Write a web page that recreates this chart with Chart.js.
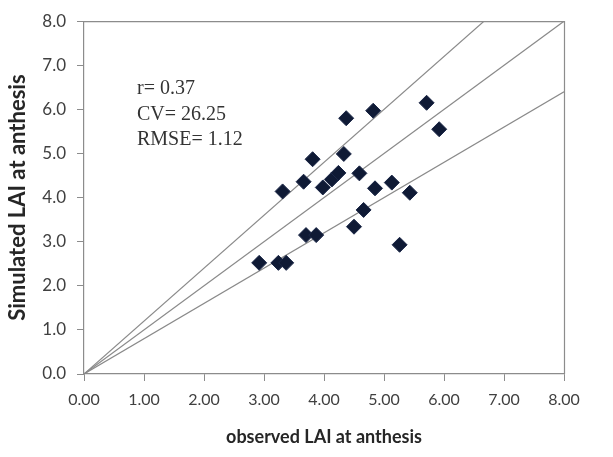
<!DOCTYPE html>
<html>
<head>
<meta charset="utf-8">
<script src="https://cdn.jsdelivr.net/npm/chart.js@4/dist/chart.umd.min.js"></script>
<style>
  html, body { margin: 0; padding: 0; background: #ffffff; }
  #wrap { width: 613px; height: 457px; }
</style>
</head>
<body>
<div id="wrap"><canvas id="c" width="613" height="457"></canvas></div>
<script>
// Observed LAI at anthesis (x) and simulated LAI at anthesis (y)
const observedLAI = [2.92, 3.24, 3.37, 3.70, 3.87, 3.31, 3.66, 3.81, 3.98, 4.13, 4.24, 4.33, 4.59,
                     4.85, 5.13, 5.43, 4.66, 4.50, 5.26, 4.37, 4.82, 5.71, 5.92];
const simulatedLAI = [2.52, 2.52, 2.52, 3.15, 3.15, 4.14, 4.36, 4.87, 4.23, 4.41, 4.56, 4.99, 4.55,
                      4.21, 4.34, 4.11, 3.72, 3.34, 2.93, 5.80, 5.97, 6.15, 5.55];
// Reference lines through the origin: y = slope * x
const refSlopes = [1.2, 1.0, 0.8];
const refLineX = [0, 8];
// Axis ticks
const xTicks = [0, 1, 2, 3, 4, 5, 6, 7, 8];
const yTicks = [0, 1, 2, 3, 4, 5, 6, 7, 8];
// Statistics annotation
const statsLines = ["r= 0.37", "CV= 26.25", "RMSE= 1.12"];

const points = observedLAI.map((x, i) => ({ x: x, y: simulatedLAI[i] }));
const lineSets = refSlopes.map(s => ({
  type: 'line',
  data: refLineX.map(x => ({ x: x, y: s * x })),
  borderColor: '#8a8a8a',
  borderWidth: 1.2,
  pointRadius: 0,
  fill: false,
  tension: 0
}));

const boxPlugin = {
  id: 'box',
  beforeDraw(chart) {
    const ctx = chart.ctx;
    ctx.save();
    ctx.fillStyle = '#ffffff';
    ctx.fillRect(0, 0, chart.width, chart.height);
    ctx.restore();
  },
  afterDraw(chart) {
    const ctx = chart.ctx;
    const a = chart.chartArea;
    ctx.save();
    ctx.strokeStyle = '#8c8c8c';
    ctx.lineWidth = 1.2;
    ctx.beginPath();
    ctx.moveTo(a.left, a.top + 0.5);
    ctx.lineTo(a.right + 0.5, a.top + 0.5);
    ctx.lineTo(a.right + 0.5, a.bottom);
    ctx.stroke();
    ctx.fillStyle = '#333333';
    ctx.font = '20px "Liberation Serif", "Times New Roman", serif';
    ctx.textBaseline = 'middle';
    ctx.textAlign = 'left';
    statsLines.forEach((t, i) => {
      ctx.fillText(t, a.left + 53, a.top + 68 + i * 25.5);
    });
    ctx.restore();
  }
};

new Chart(document.getElementById('c'), {
  type: 'scatter',
  data: {
    datasets: [
      {
        data: points,
        pointStyle: 'rectRot',
        pointRadius: 7.5,
        pointBackgroundColor: '#0f1a35',
        pointBorderColor: '#1a2646',
        pointBorderWidth: 1,
        showLine: false
      },
      ...lineSets
    ]
  },
  options: {
    responsive: false,
    animation: false,
    devicePixelRatio: 1,
    layout: { padding: { top: 21, right: 49, left: 0, bottom: 0 } },
    plugins: { legend: { display: false }, tooltip: { enabled: false } },
    scales: {
      x: {
        type: 'linear',
        min: 0, max: 8,
        afterBuildTicks: s => { s.ticks = xTicks.map(v => ({ value: v })); },
        afterFit: s => { s.height = 83; },
        ticks: {
          callback: v => Number(v).toFixed(2),
          color: '#404040',
          font: { family: 'Lato, "Open Sans", sans-serif', size: 16 },
          padding: 9,
          maxRotation: 0
        },
        grid: { drawOnChartArea: false, drawTicks: true, tickLength: 7, color: '#8c8c8c' },
        border: { display: true, color: '#8c8c8c', width: 1.2 },
        title: {
          display: true,
          text: 'observed LAI at anthesis',
          color: '#262626',
          font: { family: 'Lato, "Open Sans", sans-serif', size: 18, weight: 'bold' },
          padding: { top: 0, bottom: 9 }
        }
      },
      y: {
        type: 'linear',
        min: 0, max: 8,
        afterBuildTicks: s => { s.ticks = yTicks.map(v => ({ value: v })); },
        afterFit: s => { s.width = 84; },
        ticks: {
          callback: v => Number(v).toFixed(1),
          color: '#404040',
          font: { family: 'Lato, "Open Sans", sans-serif', size: 17 },
          padding: 11
        },
        grid: { drawOnChartArea: false, drawTicks: true, tickLength: 7, color: '#8c8c8c' },
        border: { display: true, color: '#8c8c8c', width: 1.2 },
        title: {
          display: true,
          text: 'Simulated LAI at anthesis',
          color: '#262626',
          font: { family: 'Lato, "Open Sans", sans-serif', size: 22, weight: 'bold' },
          padding: { top: 5, bottom: 0 }
        }
      }
    }
  },
  plugins: [boxPlugin]
});
</script>
</body>
</html>
